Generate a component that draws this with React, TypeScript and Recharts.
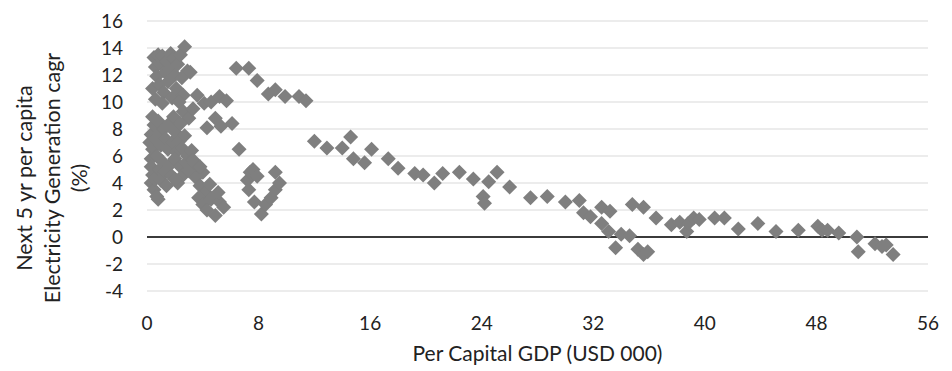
import React from 'react';
import { ScatterChart, Scatter, XAxis, YAxis, CartesianGrid, ReferenceLine } from 'recharts';

// per capita GDP (USD 000) and next 5 yr electricity generation cagr (%)
const lowGdp = [
  0.5, 0.6, 0.7, 0.8, 1.0, 1.1, 1.3, 1.4, 1.6, 1.7, 1.9, 2.0, 2.2, 2.4, 2.7, 2.9, 3.1, 0.4, 0.9, 1.2,
  1.5, 1.8, 2.1, 2.5, 2.6, 0.6, 1.1, 2.3,
  0.2, 0.3, 0.4, 0.3, 0.5, 0.6, 0.4, 0.8, 0.7, 0.9, 1.0, 1.2, 1.3, 1.5, 1.6, 1.8, 2.0, 2.1, 2.3, 2.5,
  2.7, 2.9, 3.2, 1.9, 2.6, 3.0, 3.3, 2.4,
  0.3, 0.4, 0.3, 0.5, 0.7, 0.8, 0.6, 0.9, 1.0, 1.1, 1.3, 1.4, 1.6, 1.8, 2.0, 2.2, 2.4, 2.6, 2.8, 3.0,
  3.3, 3.5, 3.6, 3.8, 4.0, 4.2, 3.7, 4.0, 4.3, 4.6, 4.9, 5.2, 5.5, 5.1, 4.5, 2.0,
  3.6, 4.1, 4.6, 5.2, 5.7, 4.3, 4.9, 5.3, 6.1, 3.4, 3.8,
];
const lowCagr = [
  13.3, 12.6, 11.9, 13.5, 12.8, 13.4, 12.2, 13.0, 12.4, 13.6, 13.2, 12.0, 12.8, 13.5, 14.1, 12.3, 12.2, 11.0, 11.3, 10.7,
  11.5, 10.3, 11.0, 11.8, 10.5, 10.2, 9.9, 10.0,
  7.0, 7.6, 6.5, 5.8, 8.3, 7.2, 8.9, 8.6, 6.0, 7.7, 6.8, 8.0, 7.3, 6.5, 8.4, 7.0, 7.8, 6.3, 7.1, 6.6,
  7.5, 6.0, 6.4, 8.9, 9.3, 8.8, 9.5, 8.4,
  5.2, 4.6, 4.0, 3.5, 3.0, 2.8, 4.3, 5.0, 4.2, 5.6, 4.8, 3.8, 5.3, 4.5, 5.8, 4.0, 5.2, 4.6, 5.5, 4.9,
  5.7, 4.4, 5.2, 3.8, 4.8, 3.3, 2.9, 2.4, 2.0, 2.8, 1.6, 2.6, 2.2, 3.3, 3.9, 4.3,
  10.5, 9.9, 10.0, 10.4, 10.1, 8.1, 8.8, 8.2, 8.4, 5.5, 5.2,
];

const midGdp = [
  6.4, 7.3, 7.9, 8.7, 9.2, 9.9, 10.9, 11.4,
  6.6, 7.2, 7.4, 7.6, 7.9, 7.3, 7.7, 8.2, 8.5, 8.9, 9.2, 9.5, 9.2,
  12.0, 12.9, 14.0, 14.6, 14.8, 15.6, 16.1, 17.3, 18.0, 19.2, 19.8, 20.6, 21.2, 22.4, 23.4, 25.1,
  24.5, 24.1, 24.2, 26.0, 27.5, 28.7, 30.0,
];
const midCagr = [
  12.5, 12.5, 11.6, 10.6, 10.9, 10.4, 10.4, 10.1,
  6.5, 4.2, 4.8, 5.0, 4.5, 3.5, 2.6, 1.7, 2.4, 2.9, 3.5, 4.0, 4.8,
  7.1, 6.6, 6.6, 7.4, 5.8, 5.5, 6.5, 5.8, 5.1, 4.7, 4.6, 4.0, 4.7, 4.8, 4.3, 4.8,
  4.1, 3.0, 2.5, 3.7, 2.9, 3.0, 2.6,
];

const highGdp = [
  31.0, 31.3, 31.8, 32.6, 33.2, 32.6, 33.1, 33.6, 34.0, 34.6, 34.8, 35.6, 35.2, 35.6, 35.9,
  36.5, 37.6, 38.2, 38.7, 38.8, 39.2, 39.6, 40.7, 41.4, 42.4, 43.8, 45.1, 46.7,
  48.1, 48.4, 48.8, 49.6, 50.9, 51.0, 52.2, 52.7, 53.0, 53.5,
];
const highCagr = [
  2.7, 1.8, 1.5, 2.2, 1.9, 1.0, 0.4, -0.8, 0.2, 0.1, 2.4, 2.2, -0.9, -1.3, -1.1,
  1.4, 0.9, 1.1, 0.4, 1.0, 1.4, 1.3, 1.4, 1.4, 0.6, 1.0, 0.4, 0.5,
  0.8, 0.5, 0.5, 0.3, 0.0, -1.1, -0.5, -0.7, -0.6, -1.3,
];

const xTicks = [0, 8, 16, 24, 32, 40, 48, 56];
const yTicks = [-4, -2, 0, 2, 4, 6, 8, 10, 12, 14, 16];
const yTitleLines = ['Next 5 yr per capita', 'Electricity Generation cagr', '(%)'];
const xTitle = 'Per Capital GDP (USD 000)';

const toPoints = (xs: number[], ys: number[]) => xs.map((x, i) => ({ gdp: x, cagr: ys[i] }));
const points = [
  ...toPoints(lowGdp, lowCagr),
  ...toPoints(midGdp, midCagr),
  ...toPoints(highGdp, highCagr),
];

const MARKER = '#7f7f7f';
const TEXT = '#222';
const FONT = 'Lato, sans-serif';

const Diamond = (props: any) => {
  const { cx, cy } = props;
  const r = 7.5;
  return (
    <polygon
      points={`${cx},${cy - r} ${cx + r},${cy} ${cx},${cy + r} ${cx - r},${cy}`}
      fill={MARKER}
    />
  );
};

const YTitle = () => {
  const cy = 178;
  return (
    <g>
      {yTitleLines.map((t, i) => {
        const x = 32 + i * 27.5;
        return (
          <text
            key={t}
            x={x}
            y={cy}
            transform={`rotate(-90, ${x}, ${cy})`}
            textAnchor="middle"
            fill={TEXT}
            fontSize={21.5}
            fontFamily={FONT}
          >
            {t}
          </text>
        );
      })}
    </g>
  );
};

const XTitle = (props: any) => {
  const { viewBox } = props;
  const cx = viewBox.x + viewBox.width / 2;
  return (
    <text x={cx} y={361} textAnchor="middle" fill={TEXT} fontSize={21} fontFamily={FONT}>
      {xTitle}
    </text>
  );
};

export default function App() {
  return (
    <div style={{ position: 'absolute', left: 0, top: 0, background: '#fff' }}>
      <ScatterChart width={952} height={371} margin={{ top: 21, right: 24, left: 0, bottom: 0 }}>
        <CartesianGrid horizontal vertical={false} stroke="#d9d9d9" strokeWidth={1} />
        <XAxis
          type="number"
          dataKey="gdp"
          domain={[0, 56]}
          ticks={xTicks}
          interval={0}
          axisLine={false}
          tickLine={false}
          tickSize={0}
          tickMargin={26}
          height={80}
          tick={{ fill: TEXT, fontSize: 19, fontFamily: FONT }}
          label={{ content: <XTitle /> }}
        />
        <YAxis
          type="number"
          dataKey="cagr"
          domain={[-4, 16]}
          ticks={yTicks}
          interval={0}
          axisLine={false}
          tickLine={false}
          tickSize={0}
          tickMargin={24}
          width={147}
          tick={{ fill: TEXT, fontSize: 19, fontFamily: FONT }}
          label={{ content: <YTitle /> }}
        />
        <ReferenceLine y={0} stroke="#000" strokeWidth={1.5} />
        <Scatter data={points} shape={<Diamond />} isAnimationActive={false} />
      </ScatterChart>
    </div>
  );
}
